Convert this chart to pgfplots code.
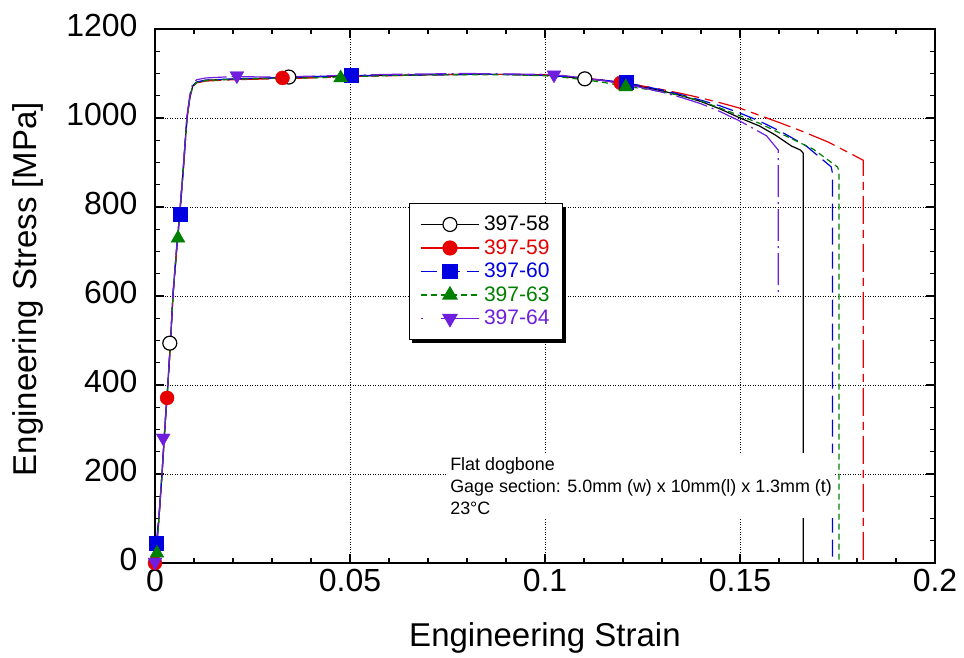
\documentclass[border=0pt]{standalone}
\usepackage{pgfplots}
\pgfplotsset{compat=1.18}
\usepackage{fontspec}
\setmainfont{Liberation Sans}
\definecolor{cred}{RGB}{230,0,0}
\definecolor{cblue}{RGB}{0,0,225}
\definecolor{cgreen}{RGB}{0,128,0}
\definecolor{cpurple}{RGB}{110,30,220}
\begin{document}
\begin{tikzpicture}
\path[use as bounding box] (-155pt,-95pt) rectangle (809pt,563pt);
\begin{axis}[
  at={(0,0)}, anchor=south west,
  scale only axis, width=780pt, height=534pt,
  xmin=0, xmax=0.2, ymin=0, ymax=1200,
  xtick={0,0.05,0.1,0.15,0.2},
  ytick={0,200,400,600,800,1000,1200},
  minor x tick num=4, minor y tick num=3,
  tick align=inside,
  major tick length=9pt, minor tick length=5pt,
  every tick/.style={black, line width=1.2pt},
  axis line style={line width=1.6pt},
  grid=major,
  major grid style={black, line width=0.8pt, dash pattern=on 1pt off 1.5pt},
  scaled x ticks=false,
  /pgf/number format/1000 sep={},
  /pgf/number format/assume math mode=true,
  xticklabel style={/pgf/number format/fixed, /pgf/number format/precision=2, yshift=-3pt},
  yticklabel style={xshift=-14pt, yshift=4pt},
  tick label style={font=\fontsize{32}{38}\selectfont},
  xlabel={Engineering Strain},
  ylabel={Engineering Stress [MPa]},
  label style={font=\fontsize{33}{40}\selectfont},
  xlabel style={at={(axis description cs:0.5,-0.157)}, anchor=base},
  ylabel style={at={(axis description cs:-0.1513,0.513)}, anchor=base},
  clip=false,
  legend style={name=leg, at={(axis description cs:0.3256,0.674)}, anchor=north west,
    draw=black, line width=0.8pt, fill=white,
    font=\fontsize{21}{24}\selectfont, row sep=3.5pt,
    inner xsep=11pt, inner ysep=11pt,
    nodes={inner sep=1.5pt, text height=15pt, text depth=2pt},
    /tikz/every odd column/.append style={column sep=3pt}},
  legend cell align=left,
  legend image code/.code={\draw[line width=1.2pt, #1] (0pt,0pt) -- (58pt,0pt);
     \draw[line width=1.2pt, #1, solid] plot coordinates {(29pt,0pt)};},
]
% 397-58 (black)
\addplot[black, line width=1.2pt, forget plot] coordinates {
(0,0) (0.0004,30) (0.001,100) (0.0018,200) (0.0025,300) (0.0033,400) (0.004,500) (0.0046,600) (0.0055,700) (0.0064,790) (0.0073,890) (0.0082,1000) (0.009,1050) (0.0097,1072) (0.0107,1080) (0.013,1085) (0.02,1087) (0.03,1090) (0.04,1092) (0.05,1094) (0.06,1096) (0.07,1097) (0.08,1098) (0.09,1098) (0.1,1096) (0.105,1093) (0.11,1088) (0.115,1084) (0.12,1078) (0.125,1070) (0.13,1061) (0.135,1050) (0.14,1037) (0.145,1020) (0.15,1000) (0.155,982) (0.159,962) (0.1632,937) (0.1655,928) (0.1662,921) (0.1662,0)};
% 397-59 (red)
\addplot[cred, line width=1.2pt, dash pattern=on 28pt off 6pt on 8pt off 6pt, forget plot] coordinates {
(0,0) (0.0004,28) (0.001,98) (0.0018,198) (0.0025,298) (0.0033,398) (0.004,498) (0.0046,598) (0.0055,698) (0.0064,788) (0.0073,888) (0.0082,998) (0.009,1048) (0.0097,1070) (0.0107,1079) (0.013,1083) (0.02,1086) (0.03,1088) (0.04,1090) (0.05,1093) (0.06,1095) (0.07,1097) (0.08,1098) (0.09,1098) (0.1,1097) (0.105,1094) (0.11,1090) (0.115,1085) (0.12,1079) (0.125,1072) (0.13,1064) (0.135,1055) (0.14,1045) (0.145,1034) (0.15,1022) (0.155,1006) (0.16,990) (0.1657,971) (0.1726,946) (0.179,917) (0.1816,905) (0.1816,0)};
% 397-60 (blue)
\addplot[cblue, line width=1.2pt, dash pattern=on 17pt off 7pt, forget plot] coordinates {
(0,0) (0.0003,45) (0.001,102) (0.0018,202) (0.0025,302) (0.0033,402) (0.004,502) (0.0046,602) (0.0055,702) (0.0064,792) (0.0073,892) (0.0082,1002) (0.009,1051) (0.0097,1073) (0.0107,1081) (0.013,1085) (0.02,1088) (0.03,1090) (0.04,1093) (0.05,1095) (0.06,1096) (0.07,1097) (0.08,1098) (0.09,1098) (0.1,1096) (0.105,1093) (0.11,1089) (0.115,1085) (0.12,1080) (0.125,1072) (0.13,1063) (0.135,1052) (0.14,1040) (0.145,1027) (0.15,1011) (0.155,993) (0.1606,969) (0.167,937) (0.1734,890) (0.1737,876) (0.1737,0)};
% 397-63 (green)
\addplot[cgreen, line width=1.2pt, dash pattern=on 6pt off 4pt, forget plot] coordinates {
(0,0) (0.0005,22) (0.001,99) (0.0018,199) (0.0025,299) (0.0033,399) (0.004,499) (0.0046,599) (0.0055,699) (0.0059,730) (0.0064,789) (0.0073,889) (0.0082,999) (0.009,1049) (0.0097,1071) (0.0107,1080) (0.013,1084) (0.02,1087) (0.03,1089) (0.04,1090) (0.05,1093) (0.06,1095) (0.07,1097) (0.08,1097) (0.09,1097) (0.1,1095) (0.105,1091) (0.11,1086) (0.115,1080) (0.12,1072) (0.125,1066) (0.13,1059) (0.135,1050) (0.14,1038) (0.145,1022) (0.15,1005) (0.155,988) (0.16,967) (0.1688,930) (0.175,890) (0.1754,880) (0.1754,0)};
% 397-64 (purple)
\addplot[cpurple, line width=1.2pt, dash pattern=on 32pt off 5pt on 2pt off 5pt, forget plot] coordinates {
(0,2) (0.0004,32) (0.001,104) (0.0021,240) (0.0025,305) (0.0033,405) (0.004,505) (0.0046,605) (0.0055,705) (0.0064,795) (0.0073,895) (0.0082,1005) (0.009,1055) (0.0097,1078) (0.0107,1086) (0.013,1090) (0.02,1093) (0.03,1092) (0.04,1094) (0.05,1096) (0.06,1098) (0.07,1099) (0.08,1100) (0.09,1099) (0.1,1098) (0.105,1095) (0.11,1090) (0.115,1084) (0.12,1077) (0.125,1068) (0.13,1058) (0.135,1046) (0.14,1032) (0.145,1014) (0.15,993) (0.1568,960) (0.1598,928) (0.1598,607)};
% markers
\addplot[only marks, mark=*, mark size=7pt, draw=black, fill=white, line width=1.2pt, forget plot] coordinates {(0.0038,494) (0.0343,1092) (0.1102,1088)};
\addplot[only marks, mark=*, mark size=7pt, cred, forget plot] coordinates {(0,0) (0.0031,371) (0.0327,1090) (0.1194,1079)};
\addplot[only marks, mark=square*, mark size=7pt, cblue, forget plot] coordinates {(0.0003,45) (0.0064,784) (0.0504,1097) (0.1207,1081)};
\addplot[only marks, mark=triangle*, mark size=8pt, cgreen, forget plot] coordinates {(0.0005,22) (0.0059,730) (0.0476,1090) (0.1207,1070)};
\addplot[only marks, mark=triangle*, mark size=8pt, mark options={rotate=180}, cpurple, forget plot] coordinates {(0,2) (0.0021,281) (0.021,1095) (0.1023,1097)};
% legend
\addlegendimage{black, mark=*, mark size=7pt, mark options={solid, fill=white, draw=black}}
\addlegendentry{\textcolor{black}{397-58}}
\addlegendimage{cred, mark=*, mark size=7pt, mark options={solid}}
\addlegendentry{\textcolor{cred}{397-59}}
\addlegendimage{cblue, dash pattern=on 16pt off 7pt, mark=square*, mark size=7pt, mark options={solid}}
\addlegendentry{\textcolor{cblue}{397-60}}
\addlegendimage{cgreen, dash pattern=on 6pt off 4pt, mark=triangle*, mark size=8pt, mark options={solid}}
\addlegendentry{\textcolor{cgreen}{397-63}}
\addlegendimage{cpurple, dash pattern=on 2pt off 18pt on 40pt, mark=triangle*, mark size=8pt, mark options={solid, rotate=180}}
\addlegendentry{\textcolor{cpurple}{397-64}}
\node[anchor=north west, fill=white, inner xsep=3pt, inner ysep=4pt, align=left,
  font=\fontsize{17.9}{22}\selectfont] at (axis cs:0.0749,247)
  {Flat dogbone\\Gage section: 5.0mm (w) x 10mm(l) x 1.3mm (t)\\23°C};
\end{axis}
\fill[black] ([xshift=3.5pt,yshift=-3.5pt]leg.south west) rectangle ([xshift=3.5pt]leg.south east);
\fill[black] ([yshift=-3.5pt]leg.north east) rectangle ([xshift=3.5pt,yshift=-3.5pt]leg.south east);
\end{tikzpicture}
\end{document}
